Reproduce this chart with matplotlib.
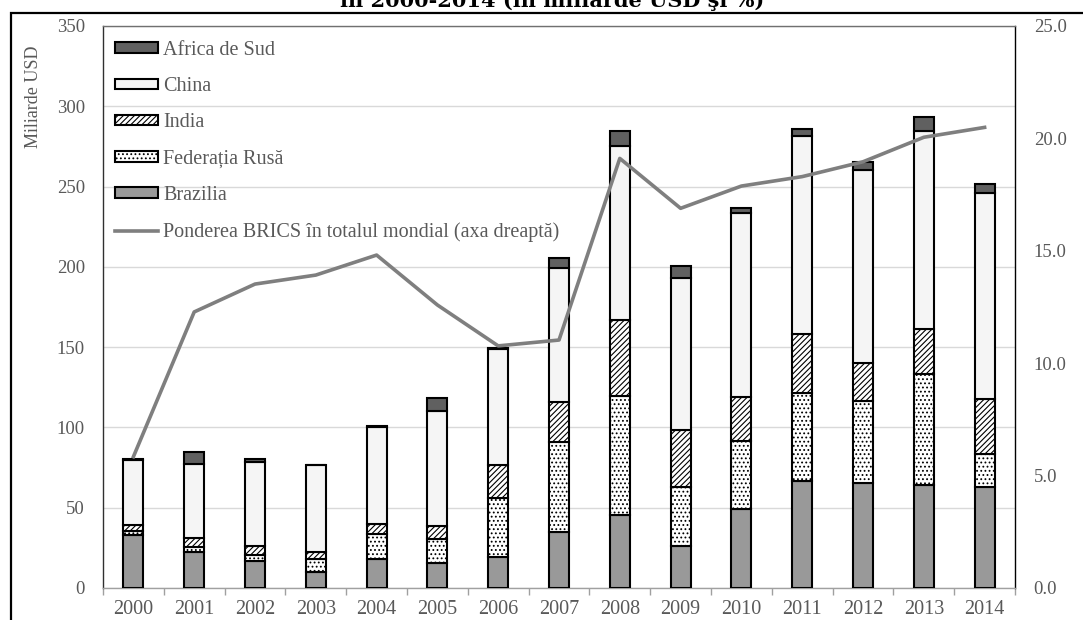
import numpy as np
import matplotlib
matplotlib.use("Agg")
import matplotlib.pyplot as plt
from matplotlib.patches import Rectangle

plt.rcParams['font.family'] = ['Liberation Serif', 'DejaVu Serif']
plt.rcParams['hatch.linewidth'] = 0.8

# data (miliarde USD)
years = [str(y) for y in range(2000, 2015)]
brazilia = [33.0, 22.6, 17.0, 9.7, 17.8, 15.4, 19.1, 34.7, 45.4, 26.1, 49.0, 66.6, 65.5, 64.0, 62.6]
rusia = [2.6, 3.1, 3.5, 8.3, 15.6, 15.2, 37.1, 56.0, 74.3, 36.6, 42.5, 55.1, 50.8, 69.0, 21.1]
india = [3.6, 5.2, 5.6, 4.6, 6.4, 7.9, 20.7, 24.9, 47.2, 35.7, 27.6, 36.3, 24.0, 28.0, 33.8]
china = [40.4, 46.6, 52.4, 53.9, 60.6, 71.7, 72.1, 83.6, 108.3, 94.7, 114.7, 123.2, 120.3, 123.3, 128.5]
africa_sud = [1.0, 6.9, 1.7, 0.4, 0.5, 7.9, 0.5, 6.4, 9.2, 7.5, 3.1, 4.8, 4.5, 9.1, 5.6]
# share of BRICS in world total, % (right axis)
pondere = [5.84, 12.28, 13.52, 13.92, 14.81, 12.59, 10.77, 11.03, 19.11, 16.89, 17.88, 18.30, 18.96, 20.05, 20.49]

series = [
    ("Brazilia", brazilia, "#999999", None),
    ("Federația Rusă", rusia, "#ffffff", "...."),
    ("India", india, "#ffffff", "//////"),
    ("China", china, "#f5f5f5", None),
    ("Africa de Sud", africa_sud, "#606060", None),
]

text_col = "#595959"
fig = plt.figure(figsize=(10.83, 6.20), dpi=100)
ax = fig.add_axes([103 / 1083, 1 - 588 / 620, 912 / 1083, 562 / 620])
ax2 = ax.twinx()

x = np.arange(len(years))
bottom = np.zeros(len(years))
bar_handles = {}
for name, vals, color, hatch in series:
    b = ax.bar(x, vals, width=0.33, bottom=bottom, color=color, edgecolor="black",
               linewidth=1.5, hatch=hatch, label=name, zorder=3)
    bar_handles[name] = b
    bottom += np.array(vals)

line, = ax2.plot(x, pondere, color="#7f7f7f", linewidth=2.6,
                 label="Ponderea BRICS în totalul mondial (axa dreaptă)")

ax.set_xlim(-0.5, 14.5)
ax.set_ylim(0, 350)
ax.set_yticks(np.arange(0, 351, 50))
ax2.set_ylim(0, 25)
ax2.set_yticks(np.arange(0, 25.1, 5))
ax2.set_yticklabels([f"{v:.1f}" for v in np.arange(0, 25.1, 5)])

ax.grid(axis="y", color="#d9d9d9", linewidth=1, zorder=0)
ax.set_axisbelow(True)

ax.set_xticks(x)
ax.set_xticklabels(years)
ax.set_xticks(np.arange(-0.5, 15, 1), minor=True)
ax.tick_params(axis="x", which="major", length=0, pad=9, labelsize=14.5, labelcolor=text_col)
ax.tick_params(axis="x", which="minor", length=5, color="#a0a0a0", width=1)
ax.tick_params(axis="y", length=0, pad=13, labelsize=13.5, labelcolor=text_col)
ax2.tick_params(axis="y", length=0, pad=13.5, labelsize=13.5, labelcolor=text_col)

ax.spines["left"].set_color("#303030")
ax.spines["top"].set_color("#707070")
ax.spines["right"].set_color("#000000")
ax.spines["bottom"].set_color("#a0a0a0")
for s in ax.spines.values():
    s.set_linewidth(1.0)
for s in ax2.spines.values():
    s.set_visible(False)

handles = [bar_handles["Africa de Sud"], bar_handles["China"], bar_handles["India"],
           bar_handles["Federația Rusă"], bar_handles["Brazilia"], line]
labels = ["Africa de Sud", "China", "India", "Federația Rusă", "Brazilia",
          "Ponderea BRICS în totalul mondial (axa dreaptă)"]
leg = ax2.legend(handles, labels, loc="upper left", bbox_to_anchor=(0.013, 0.974),
                 frameon=False, fontsize=14.5, handlelength=2.15, handleheight=0.42,
                 handletextpad=0.25, labelspacing=0.86, borderpad=0, borderaxespad=0)
for t in leg.get_texts():
    t.set_color(text_col)

fig.text(33 / 1083, 1 - 97 / 620, "Miliarde USD", rotation=90, ha="center", va="center",
         fontsize=13, color=text_col)

fig.text(0.51, 1 - 7 / 620, "în 2000-2014 (în miliarde USD şi %)", ha="center", va="baseline",
         fontsize=15, fontweight="bold", color="black", family=["DejaVu Serif"])

frame = Rectangle((11 / 1083, -0.2), 1.5, 1.2 - 12.7 / 620, transform=fig.transFigure,
                  fill=False, edgecolor="black", linewidth=1.6, clip_on=False)
fig.patches.append(frame)

fig.savefig("out.png", dpi=100)
